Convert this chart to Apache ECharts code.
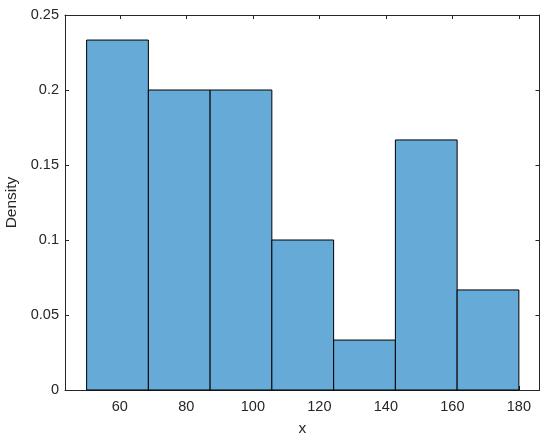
<!DOCTYPE html>
<html>
<head>
<meta charset="utf-8">
<script src="https://cdn.jsdelivr.net/npm/echarts@6/dist/echarts.min.js"></script>
<style>html,body{margin:0;padding:0;background:#fff}#c{width:550px;height:442px}</style>
</head>
<body>
<div id="c"></div>
<script>
// Histogram bin edges and densities
const binEdges = [50, 68.57, 87.14, 105.71, 124.29, 142.86, 161.43, 180];
const densities = [0.2333, 0.2, 0.2, 0.1, 0.0333, 0.1667, 0.0667];
const xTicks = [60, 80, 100, 120, 140, 160, 180];
const yTicks = [0, 0.05, 0.1, 0.15, 0.2, 0.25];

const data = densities.map((d, i) => [binEdges[i], binEdges[i + 1], d]);

const axisColor = '#262626';
const font = 'Liberation Sans, Arial, Helvetica, sans-serif';

const chart = echarts.init(document.getElementById('c'), null, {renderer: 'canvas'});
const common = {
  axisLine: {show: true, onZero: false, lineStyle: {color: axisColor, width: 1}},
  splitLine: {show: false}
};
chart.setOption({
  animation: false,
  backgroundColor: '#fff',
  grid: {left: 65, right: 10.5, top: 15, bottom: 52, show: false, containLabel: false, outerBoundsMode: 'none'},
  xAxis: [
    Object.assign({}, common, {
      type: 'value', min: 43.5, max: 186.2, position: 'bottom',
      name: 'x', nameLocation: 'middle', nameGap: 31,
      nameTextStyle: {color: axisColor, fontSize: 15.5, fontFamily: font},
      axisTick: {show: true, inside: true, length: 4, customValues: xTicks, lineStyle: {color: axisColor}},
      axisLabel: {show: true, customValues: xTicks, margin: 9, color: axisColor, fontSize: 14.5, fontFamily: font}
    }),
    Object.assign({}, common, {
      type: 'value', min: 43.5, max: 186.2, position: 'top',
      axisTick: {show: true, inside: true, length: 4, customValues: xTicks, lineStyle: {color: axisColor}},
      axisLabel: {show: false}
    })
  ],
  yAxis: [
    Object.assign({}, common, {
      type: 'value', min: 0, max: 0.25, position: 'left',
      name: 'Density', nameLocation: 'middle', nameGap: 38,
      nameTextStyle: {color: axisColor, fontSize: 15.5, fontFamily: font},
      axisTick: {show: true, inside: true, length: 4, customValues: yTicks, lineStyle: {color: axisColor}},
      axisLabel: {show: true, customValues: yTicks, margin: 6, color: axisColor, fontSize: 14.5, fontFamily: font}
    }),
    Object.assign({}, common, {
      type: 'value', min: 0, max: 0.25, position: 'right',
      axisTick: {show: true, inside: true, length: 4, customValues: yTicks, lineStyle: {color: axisColor}},
      axisLabel: {show: false}
    })
  ],
  series: [{
    type: 'custom',
    xAxisIndex: 0, yAxisIndex: 0,
    data: data,
    encode: {x: [0, 1], y: 2},
    renderItem: function (params, api) {
      const p0 = api.coord([api.value(0), api.value(2)]);
      const p1 = api.coord([api.value(1), 0]);
      return {
        type: 'rect',
        shape: {x: p0[0], y: p0[1], width: p1[0] - p0[0], height: p1[1] - p0[1]},
        style: {fill: '#66AAD7', stroke: '#000', lineWidth: 1}
      };
    }
  }]
});
</script>
</body>
</html>
